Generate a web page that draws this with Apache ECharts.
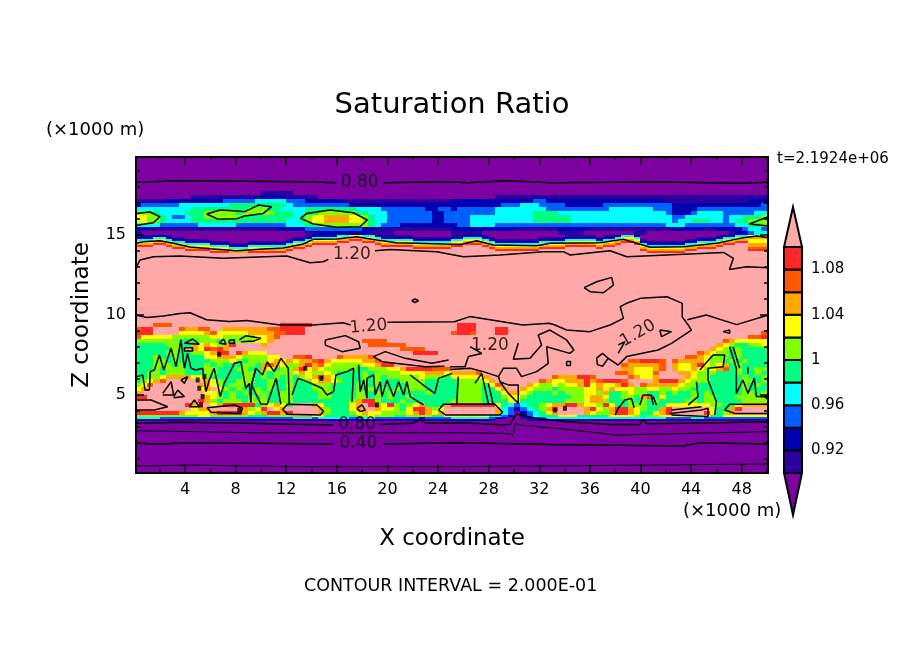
<!DOCTYPE html>
<html>
<head>
<meta charset="utf-8">
<title>Saturation Ratio</title>
<script src="https://cdn.jsdelivr.net/npm/echarts@6/dist/echarts.min.js"></script>
<style>
html, body { margin: 0; padding: 0; background: #fff; }
#chart { width: 904px; height: 654px; }
</style>
</head>
<body>
<div id="chart"></div>
<script>
// colour levels, lowest to highest: p i d b c g l y o r e k
var levelChars = 'pidbcglyorek';
var levelColors = ['#7d00a0', '#2c00a0', '#0000b0', '#0060ff', '#00ffff', '#00ff80',
    '#80ff00', '#ffff00', '#ffa800', '#ff5800', '#ff2828', '#ffa8a8'];
var levelEdges = [0.90, 0.92, 0.94, 0.96, 0.98, 1.00, 1.02, 1.04, 1.06, 1.08, 1.10];
var colorbarLabels = [0.92, 0.96, 1, 1.04, 1.08];

var xMajorTicks = [4, 8, 12, 16, 20, 24, 28, 32, 36, 40, 44, 48];
var xMinorTicks = [2, 6, 10, 14, 18, 22, 26, 30, 34, 38, 42, 46, 50];
var zMajorTicks = [5, 10, 15];
var zMinorTicks = [1, 2, 3, 4, 6, 7, 8, 9, 11, 12, 13, 14, 16, 17, 18, 19];

// column width 0.5 km (x = 0 .. 50), rows from the top down
var columnWidth = 0.5;
var zEdges = [20, 17.75, 17.5, 17.25, 17, 16.75, 16.5, 16.25, 16, 15.75, 15.5, 15.25, 15,
    14.875, 14.75, 14.625, 14.5, 14.375, 14.25, 14.125, 14, 13.875,
    9.5, 9.25, 9, 8.75, 8.5, 8.25, 8, 7.75, 7.5, 7.25, 7, 6.75, 6.5, 6.25, 6, 5.75, 5.5, 5.25,
    5, 4.75, 4.5, 4.25, 4, 3.75, 3.625, 3.5, 3.375, 0];
var fieldRows = [
    'pppppppppp pppppppppp pppppppppp pppppppppp pppppppppp pppppppppp pppppppppp pppppppppp pppppppppp pppppppppp',
    'pppppppppp pppppppppp iiiiippppp pppppppppp pppppppppp pppppppppp pppppppppp pppppppppp pppppppppp pppppppppp',
    'pppppppppi iiiiiiiiii ddddiiiiip pppppppppp pppppppppp pppppppiii iiiiiiiiii iiiiiiiiii iiiiiiiiii iiiiiiiiii',
    'iiiiiddddd ddddbbbbbc ccccbbbddd dddiiiiiii iiiiiiiiii dddddddddd dddbbddddd dddddddddd ddddiiiiii iiiiiiiddd',
    'dbbbbbbccc cccccggggg ggggcbbbbb bbbbdddddd dddddddddd ddddddddbb bcccbbbbdd ddddbbbbbb bbbbbddddd dddddddddb',
    'cccccccccg ggggggggll lggccccggg gggggccccb bbbbbbddbb dbbbbbbccc cccccbbbbb bbbbbccccc ccbbbddddb bbbbbbbbbb',
    'lllgccccgg glllllglll llgggccggl lllllggccc bbbbbbbddb bbbbbbbccc cccggggccc cccccccccc ccccbdddbc cccbbbbbcc',
    'yyllgcbbcg gllllllggg gggggcglyy ooooyylgcc bbbbbbbddb bbbccccccc cccggggggc cccccccccc cccccbbccc cccbccgggl',
    'yyllgccccg gggggggggg ggggccglyy ooooyylgcc bbbbbbbddb bbbccccccc cccggggggc cccccccccc cccccbccgg gccbcgglll',
    'ccccbbbbbb ccccccbbbb bbbbcccggl lllllllgcb bbdddddddd dbbccccbbb bbbbbbbbbb bbbbbbbbbb bbbbcccbbb bbbbbccggl',
    'ddiiiiiiii iiiiiiiiii iiiddddbbb bbbbbbddii iiiiiiiiii dddddddddd iiiiiiiddd ddiiiiiiii iiiiiddddd iiddddbccb',
    'ippppppppp pppppppppp pppppppiid dddddddiii ippppppppp iiiiippppp pppppppiii ippppppppi ippppppppp ppppiddbcc',
    'iiiddipppp pppppppppp pppppppidd ddccyyccdi iiiipppppp iidddipppp ppppppppii iiipiidccd pppppppppp ppiddccyyy',
    'dddccdiipp pppppppppp pppppiidcc ccyyooyycd ddddiiiiii ddcccdippp ppppiiiidd dddiddcyyc pppppppppi iidccyyooo',
    'cccyycddii iipppppppp ppppiddcyy yyooeeooyc ccccdddddd ccyyycdiii iiiiddddcc cccdccyooy ippppppiid ddcyyooyyy',
    'yyyooyccdd ddiiipppii iiiidccyoo ooeekkeeoy yyyycccccc yyoooycddd ddddccccyy yyycyyoeeo diiiiiiddc ccyooeeyyy',
    'oooeeoyycc ccdddiiidd ddddcyyoee eekkkkkkeo ooooyyyyyy ooeeeoyccc ccccyyyyoo oooyooekke cddddddccy yyoeekkooo',
    'eeekkeooyy yycccdddcc ccccyooekk kkkkkkkkke eeeeoooooo eekkkeoyyy yyyyooooee eeeoeekkkk yccccccyyo ooekkkkooo',
    'kkkkkkeeoo ooyyycccyy yyyyoeekkk kkkkkkkkkk kkkkeeeeee kkkkkkeooo ooooeeeekk kkkekkkkkk oyyyyyyooe eekkkkkrrr',
    'kkkkkkkkee eeoooyyyoo ooooekkkkk kkkkkkkkkk kkkkkkkkkk kkkkkkkeee eeeekkkkkk kkkkkkkkkk eooooooeek kkkkkkkeee',
    'kkkkkkkkkk kkeeeoooee eeeekkkkkk kkkkkkkkkk kkkkkkkkkk kkkkkkkkkk kkkkkkkkkk kkkkkkkkkk keeeeeekkk kkkkkkkkkk',
    'kkkkkkkkkk kkkkkkkkkk kkkkkkkkkk kkkkkkkkkk kkkkkkkkkk kkkkkkkkkk kkkkkkkkkk kkkkkkkkkk kkkkkkkkkk kkkkkkkkkk',
    'kkkrrrkkkk kkkkkkkkkk kkkeeeeekk kkkkkkkkkk kkkkkkkkkk keeekkkkkk kkkkkkkkkk kkkkkkkkkk kkkkkkkkkk kkkkkkkkkk',
    'reekkkkroo rrkkoooooo orreeeekkk kkkkkkkkkk kkkkkkkkkk keeekkkeek kkkkkkkkkk kkkkkkkkkk kkkkkkkkkk kkkkkkkkkk',
    'eeekkkkyyy yoryyyyyoo oorreeekkk kkkkkkkkkk kkkkkkkkkk reerkkkeek kkkkkkkkkk kkkkkkkkkk kkkkkkkkkk kkkkkkkkkr',
    'ryyyyyllll llyyllllly yorkkkkkkk kkkkkkkkkk kkkkkkkkkk kkkkkkkkkk kkkkkkkkkk kkkkkkkkkk kkkkkkkkkk kkkkkkkrre',
    'lllllllggg lllglgllly yokkkkkkkk kkkkkkrrrr kkkkkkkkkk kkkkkkkkkk kkkkkkkkkk kkkkkkkkkk kkkkkkkkkk kkkroyyyyy',
    'gggggllggo yoyloekkkk okkkkkkkkk kkkkkkkrrr rrrkkkkkkk kkkkkkkkkk kkkkkkkkkk kkkkkkkkkk kkkkkkkkkk kkoylgglly',
    'gggggglgko yereokkkkk kkkkkkkkkk kkkkkkkkkk kkrrrrkkkk kkkkkkkkkk kkkkkkkkkk kkkkkkkkkk kkkkkkkkkk koylglgggg',
    'gggggllggl lyoeekeoyy ykkkkkkkkk kkkkkkkkkk kkkkeeeekk kkkkkkkkkk kkkkkkkkkk kkkkkkkkkk kkkkkkkkkr oyllglgggg',
    'ggglgglggg gyyoooylll lyykkrrekk kkroooorkk kkkkkkkkkk kkkkkkkkkk kkkkkkkkkk kkkkkkkkkk kkkkkkkrro ylllglgggg',
    'gggllglggg gglllylgll lyoyoyoore oyyyyyoork kkkkkkkkkk kkkkkkkkkk kkkkkkkkkk kkkkkkkkrr eeerkroooo yllglglggg',
    'ggglllglgg glglgggllg oroylloeor ylllllyyoe ekkkkkkkkk kkkkkkkkkk kkkkkkkkkk kkkkkkkroo ooorkoyyoe ylyoglgggg',
    'ggglglllgg gllgggllgg oyglloeyoy lllllgglll yyoeeeerrr kkkkkkkkkk kkkkkkkkkk kkkkkkkooy yyorkoyyoy lyorglggll',
    'ggllglllgg gllggggllg lglllyoyll ylgggglgll llyyyyoooy oooorkkkkk kkkkkkkkkk kkkkkkrroy yyrkkkooyl llggglgglg',
    'ggllyooooy ylgggggllg lglglglyoe oygggglglg lllllylllg yyyyyokkkk kkkkkkrooo eerkkkkkro yyokkkkoyl lggggglggl',
    'glyorkkkkk koylgglllg glgglgglyo oylggglglg ggllllgggg gllllyokkk kkkkroyyoo oeoreeerkk kkoeeeoyll lgggggllgl',
    'lyrkkkkkkk ooylglllgg glgglgggll lggggllglg ggglllgggg gllllgyrkk kkoyllylyy oeyoyyoeok roooooyllg gggggglglg',
    'yokkkkkkkk yokylglggl glgglgggll lgggglglgl glglllgggg gllllggyok koylllglll lyyoyoyyyl lyyllyllgg gggggglggg',
    'okkkkkkkkk kyylglglgl lggllggggl lggggllglg lggggglggg gllllgggyo oylggglgll lyylogglyl lgglglgglg lgggggllgl',
    'eekkkkkkkk koylglgglg lggllggggl lggggllglg lgglgggggg gllllgggly ylgggggggl lyooyggllg orgygggglg llggglllll',
    'kkkkkkkkkk eolglllgll lggllggggg ggggloeelg gglggggggg lllllggggy ygggggggll lyoolggglg lglggggllg llggggllll',
    'kkkkkkkkeo kkyoeeeeeg lyoygkkkoy ggggyokeoy elglyogggo eeeeeeeygc bcgglyooee oyyleyggll lgggyyyyyy yllggyoooo',
    'kkkkkkkkky ookkkkkoly ekyokkkkko lgggyokkoy ylgyeeolyk kkkkkkkocb dbcgloekkk koeyloeeoy lggoekkkkk kyggoekkkk',
    'eeeeeeeoyy yyoeeeeoyl oeeoekkkko lggglyoyyl lllyoeoyok kkkkkkkocb pdbcgyokkk koylloeeoy ggyoekkkkk eyglokkkkk',
    'llllllllll yyllllllgg glllloooyy gggggllyll lggllllggy yyyyyygcbd pdbcgggyyy gggggyyyyl gllyyyyyyy yggyyyyyyy',
    'ccccbbbbbb bbbbbbbbbb bbbbbcccbc ccccbbccbb bbbbbdbbbb ccccccbdip pidbbccccc cccccccccc ccccbbbbcc bbbbbbbbbb',
    'iiiiiiiiii iiiiiiiiii iiiiiiiiii ddddiiiiii iiiiddiiii ddddddippp ppiiddddii iiiiiiiiii iiiiiiiiii iiiiiiiiii',
    'pppppppppp pppppppppp pppppppppp pppppppppp pppppppppp pppppppppp pppppppppp pppppppppp pppppppppp pppppppppp'
];

// contour lines, [x km, z km]
var c080Top = [[0.2, 18.29], [3.6, 18.39], [13.6, 18.33], [15.9, 18.27]];
var c080TopB = [[19.7, 18.27], [25, 18.33], [26.3, 18.27], [29.4, 18.39], [32.9, 18.27], [38.1, 18.29], [41.8, 18.31], [47.9, 18.23], [50.1, 18.29]];
var blobA = [[0.1, 16.35], [1.23, 16.44], [2.02, 16.14], [1.5, 15.77], [0.1, 15.6]];
var blobB = [[5.71, 16.31], [6.77, 16.56], [8.08, 16.5], [8.74, 16.46], [9.8, 16.87], [10.85, 16.77], [10.19, 16.35], [8.74, 16.19], [8.08, 16.02], [6.63, 15.98], [5.71, 16.31]];
var blobC = [[13.14, 16.04], [13.62, 16.35], [15.46, 16.56], [17.31, 16.39], [18.41, 15.94], [17.83, 15.52], [15.99, 15.48], [14.15, 15.69], [13.14, 16.04]];
var blobD = [[50.1, 16.14], [48.59, 15.69], [50.1, 15.56]];
var interfaceLine = [[0.1, 14.48], [0.71, 14.58], [2.02, 14.64], [3.08, 14.48], [4.4, 14.25], [5.98, 14.14], [8.08, 14.02], [10.19, 14.12], [11.77, 14.19], [13.35, 14.44], [14.15, 14.73], [15.99, 14.75], [17.57, 14.89], [19.15, 14.69], [20.73, 14.52], [25.74, 14.41],
    [27.06, 14.64], [28.38, 14.37], [31.8, 14.33], [32.86, 14.48], [36.81, 14.52], [38.65, 14.73], [40.76, 14.23], [43.4, 14.27], [46.03, 14.48], [47.87, 14.79], [49.19, 14.94], [50.1, 14.85]];
var c120Upper = [[0.18, 13.02], [0.44, 13.44], [1.5, 13.64], [3.6, 13.69], [7.03, 13.54], [12.04, 13.69], [13.88, 13.27], [14.93, 13.33], [15.33, 13.48]];
var c120UpperB = [[19.02, 14.02], [20.2, 14.1], [23.9, 13.96], [26, 13.64], [28.9, 13.75], [32.33, 13.96], [33.91, 13.96], [34.44, 13.75], [37.6, 14.02], [38.92, 13.64], [46.56, 13.91], [47.35, 13.54], [47.03, 12.85], [48.4, 13.02], [50.1, 12.96]];
var loopHigh = [[35.54, 11.71], [36.54, 12.08], [37.73, 12.35], [37.86, 11.87], [37.07, 11.39], [36.02, 11.46], [35.54, 11.71]];
var spotHigh = [[21.92, 10.89], [22.18, 11], [22.45, 10.89], [22.18, 10.77], [21.92, 10.89]];
var c120Main = [[0.1, 10], [1, 9.85], [2.3, 9.94], [3.6, 10.1], [4.4, 10.14], [5.7, 9.7], [7.5, 9.6], [8.9, 9.65], [11.5, 9.37], [14.1, 9.37], [16.5, 9.52], [17.1, 9.37]];
var c120MainB = [[20, 9.54], [25.3, 9.58], [26.5, 9.9], [30.7, 9.37], [32.8, 9.48], [33.24, 9.375], [34.16, 9.06], [36, 8.96], [37.6, 9.375], [38.65, 9.79], [38.4, 10.52], [38.9, 10.73], [40, 11.04], [42.1, 11.14], [43.3, 10.73], [43.3, 9.88], [43.77, 9.375], [44.03, 9.06], [42.45, 8.23], [41.4, 7.81], [38.9, 7.4], [38.24, 6.87], [37.45, 7.29]];
var c120MainC = [[43.7, 9.7], [45.2, 10], [47.6, 9.4], [50.1, 10]];
var loopCloudA = [[15.09, 8.44], [16.67, 8.71], [17.72, 8.33], [17.85, 7.92], [16.41, 7.71], [15.09, 8.12], [15.09, 8.44]];
var streakUpper = [[18.9, 7.4], [19.83, 7.71], [21.41, 7.29], [23.51, 6.98], [24.83, 7.19]];
var streakLower = [[18.9, 7.4], [19.57, 7.08], [23, 6.77], [24.5, 6.8]];
var cloudTopA = [[24.95, 6.77], [26.13, 6.77], [26.4, 7.4], [27.45, 7.6], [26.53, 8.02]];
var cloudTopB = [[24.95, 6.6], [26.53, 6.67], [27.58, 6.46], [28.77, 6.15], [29.16, 6.67], [30.2, 6.67], [30.6, 6.15], [31.8, 6.46], [32.71, 6.98], [32.58, 8.02], [34.42, 7.6], [34.74, 7.81], [34.16, 8.44], [32.84, 9.06], [31.92, 8.75], [32.18, 8.13], [31.27, 7.29], [29.95, 7.23], [30.34, 8.23]];
var cloudTopC = [[28.77, 6.15], [28.9, 5.83], [29.55, 5.63], [30.34, 5.63], [30.34, 4.48], [29.55, 5.1], [28.9, 5.83]];
var squareLoop = [[34.16, 7.1], [34.47, 7.1], [34.47, 6.85], [34.16, 6.85], [34.16, 7.1]];
var loopCloudB = [[36.53, 7.3], [37, 7.6], [37.45, 7.3], [37, 6.8], [36.6, 6.9], [36.53, 7.3]];
var loopCloudC = [[41.53, 9.06], [42.45, 8.96], [41.66, 8.65], [41.53, 9.06]];
var loopCloudD = [[46.53, 8.96], [47.05, 9.06], [47.05, 8.85], [46.53, 8.96]];
var nearLabel = [[38.24, 8.13], [38.77, 8.33], [38.24, 7.6]];
// 1.0 line around the lime plumes of the cloud layer
var plumeA = [[0.2, 6.15], [0.66, 6.25], [0.84, 5.31], [1.18, 5.31], [1.26, 6.46], [1.58, 6.56], [1.97, 7.5], [2.32, 6.56], [2.63, 7.29], [2.9, 7.92], [3.29, 6.77], [3.68, 8.44], [3.95, 6.67], [4.2, 7.6], [4.47, 6.67], [4.87, 6.56], [5.39, 6.67], [5.66, 5.21], [5.92, 5.94], [6.3, 6.67], [6.79, 4.9], [7.1, 5.73], [7.9, 6.98], [8.42, 7.08], [8.8, 5.42], [9.08, 5.73], [9.2, 4.54]];
var plumeB = [[9.2, 4.54], [9.26, 5.63], [9.6, 6.67], [10.13, 6.25], [10.5, 7.08], [11.05, 6.46], [11.58, 7.29], [12.16, 6.67], [12.24, 4.38]];
var plumeC = [[9.6, 6.67], [9.26, 5.63], [10, 4.42], [10.5, 4.42], [11.2, 6.04], [11.58, 4.42]];
var plumeD = [[12.46, 5], [12.93, 6.04], [13.78, 5.79], [14.83, 5.42], [15.22, 5], [15.75, 5.21], [15.93, 6.25], [16.8, 6.46], [17.33, 6.67], [17.2, 4.58]];
var plumeE = [[17.72, 6.88], [17.85, 5.21], [18.12, 5.94], [18.38, 4.79], [18.38, 6.04], [18.9, 6.25], [19.04, 5], [19.43, 5.83], [19.57, 4.9], [19.96, 5.94], [20.49, 4.9], [20.88, 5.83], [21.28, 5], [21.54, 5.83], [21.8, 4.9], [22.85, 4.38]];
var plumeF = [[21.8, 6.25], [23, 5.52], [23.75, 5.1], [24.04, 6.04], [25.1, 6.35]];
var plumeG = [[25.6, 6.15], [25.48, 4.48]];
var plumeH = [[26.92, 5.73], [27.45, 6.35], [27.98, 4.48]];
var plumeI = [[27.98, 5.73], [28.37, 4.38]];
var plumeJ = [[44.69, 6.56], [45.74, 7.5], [46.66, 7.5], [46.53, 6.77], [45.34, 6.67], [45.34, 5.94], [46, 4.58], [45.87, 3.75]];
var plumeK = [[44.42, 5.83], [44.55, 4.9], [43.77, 4.38]];
var plumeL = [[47.05, 8.02], [47.58, 6.67], [47.58, 5.1], [48.1, 5.94], [48.5, 5.1], [49, 6.04], [49.16, 4.9], [49.82, 4.9], [50.08, 4.7]];
var plumeM = [[47.32, 8.02], [47.84, 6.67]];
var plumeN = [[48.5, 6.77], [48.5, 6.35]];
var plumeO = [[39.95, 4.38], [40.21, 5], [40.87, 5], [41, 4.38]];
var plumeP = [[38, 3.75], [38.24, 4.17], [38.77, 4.69], [39.29, 4.79], [39.5, 4.2]];
var plumeQ = [[41, 4.9], [41.27, 4.38]];
// small shapes at the top of the cloud layer
var topCellA = [[3.95, 8.23], [4.6, 8.5], [5.13, 8.17], [3.95, 8.23]];
var topCellB = [[6.7, 8.23], [7.05, 8.5], [7.24, 8.17], [6.7, 8.23]];
var topCellC = [[7.5, 8.44], [7.9, 8.44], [7.9, 8.23], [7.5, 8.23], [7.5, 8.44]];
var topCellD = [[8.29, 8.44], [8.82, 8.71], [10, 8.54], [9.47, 8.38], [8.42, 8.33], [8.29, 8.44]];
var topCellE = [[3.95, 7.95], [4.6, 7.95], [4.6, 7.75], [3.95, 7.75], [3.95, 7.95]];
// boxes and loops near cloud base
var loopLeftA = [[2.24, 5.1], [2.9, 5.83], [3.1, 5], [2.24, 5]];
var loopLeftB = [[3.1, 4.9], [3.42, 5.31], [3.95, 4.9], [3.1, 4.83]];
var loopLeftC = [[4.34, 4.27], [4.74, 4.69], [5.13, 4.27], [4.34, 4.27]];
var loopLeftD = [[3.68, 5.94], [4.21, 6.15], [3.95, 5.73], [3.68, 5.94]];
var boxLeft = [[0.2, 4.69], [1.32, 4.69], [2.63, 4.27], [1.58, 4.06], [0.2, 4.06]];
var boxA = [[5.74, 4.21], [7.9, 4.38], [8.55, 4.17], [8.37, 3.85], [6.05, 3.92], [5.74, 4.21]];
var boxB = [[11.71, 4.1], [12.1, 4.42], [14.43, 4.38], [14.95, 3.98], [14.7, 3.75], [12.1, 3.79], [11.71, 4.1]];
var ringLoop = [[17.59, 4.17], [17.99, 4.38], [18.25, 4.06], [17.85, 3.96], [17.59, 4.17]];
var boxC = [[24.04, 4.06], [24.43, 4.42], [28.5, 4.42], [29.1, 3.92], [28.9, 3.75], [24.6, 3.75], [24.04, 4.06]];
var boxE = [[42.32, 3.85], [44.82, 4.06], [45.34, 4.17], [45.34, 3.65], [42.45, 3.75], [42.32, 3.85]];
var boxE2 = [[42.45, 4.06], [44.82, 4.27]];
var boxF = [[50.08, 4.42], [47.05, 4.42], [46.66, 4.06], [47.45, 3.85], [50.08, 3.85]];
var edgeLine = [[49.45, 4.9], [50.08, 4.9]];
var contourSets = [c080Top, c080TopB, blobA, blobB, blobC, blobD, interfaceLine, c120Upper, c120UpperB, loopHigh, spotHigh,
    c120Main, c120MainB, c120MainC, loopCloudA, streakUpper, streakLower, cloudTopA, cloudTopB, cloudTopC,
    squareLoop, loopCloudB, loopCloudC, loopCloudD, nearLabel,
    plumeA, plumeB, plumeC, plumeD, plumeE, plumeF, plumeG, plumeH, plumeI, plumeJ, plumeK, plumeL, plumeM, plumeN, plumeO, plumeP, plumeQ,
    topCellA, topCellB, topCellC, topCellD, topCellE, loopLeftA, loopLeftB, loopLeftC, loopLeftD,
    boxLeft, boxA, boxB, ringLoop, boxC, boxE, boxE2, boxF, edgeLine];

var c080Low = [[0.2, 3.23], [3.6, 3.29], [8.9, 3.23], [15.7, 3.12]];
var c080LowB = [[19.4, 3.16], [22, 3.23], [22.6, 3.48], [23, 3.25], [25.9, 3.27], [29.2, 3.12], [29.7, 3.18], [30.2, 3.81], [31.8, 3.54], [34.2, 3.33], [37.6, 3.16], [39.95, 3.16], [40.2, 3.48], [40.5, 3.2], [46, 3.27], [50.1, 3.33]];
var c060Low = [[0.2, 2.77], [4.9, 2.71], [9.7, 2.64], [15.4, 2.64], [25.7, 2.64], [29.4, 2.6], [29.95, 2.5], [30.1, 3.23], [30.5, 3.12], [34.2, 2.85], [38.1, 2.5], [50.1, 2.71]];
var c040Low = [[0.2, 1.98], [1.75, 1.94], [4.9, 2.02], [15.7, 1.94]];
var c040LowB = [[19.7, 1.94], [25.7, 2.02], [32.8, 1.91], [43.4, 1.81], [44.7, 2.02], [50.1, 1.94]];
var c020Low = [[0.2, 0.56], [4.4, 0.62], [12.8, 0.52], [25.7, 0.52], [40.8, 0.62], [50.1, 0.69]];
var contourBold = [c080Low, c080LowB, c040Low, c040LowB];
var contourThin = [c060Low, c020Low];

var labelX = [17.8, 17.2, 18.5, 28.1, 39.8, 17.6, 17.7];
var labelZ = [18.27, 13.75, 9.27, 8.12, 8.85, 3.18, 1.94];
var labelText = ['0.80', '1.20', '1.20', '1.20', '1.20', '0.80', '0.40'];
var labelAngle = [0, 0, 5, 0, 30, 0, 0];

// small closed contours too tight to show as lines
var spotX = [5, 5.13, 5.39, 5.26, 8.29, 5.53, 6.7, 13.51, 14.78, 19.17, 33.24, 34.03];
var spotZ = [5.94, 5.42, 4.9, 4.38, 4.06, 6.15, 7.54, 6.67, 6.04, 4.38, 4.06, 4.17];

var myChart = echarts.init(document.getElementById('chart'));

// fill cells
var fieldData = [];
fieldRows.forEach(function (row, r) {
    row.split(' ').forEach(function (group, g) {
        for (var i = 0; i < 10; i++) {
            var level = levelChars.indexOf(group.charAt(Math.min(i, group.length - 1)));
            var col = g * 10 + i;
            fieldData.push([col * columnWidth, (col + 1) * columnWidth, zEdges[r + 1], zEdges[r], level]);
        }
    });
});

function renderCell(params, api) {
    var a = api.coord([api.value(0), api.value(3)]);
    var b = api.coord([api.value(1), api.value(2)]);
    var rect = echarts.graphic.clipRectByRect(
        { x: a[0], y: a[1], width: b[0] - a[0], height: b[1] - a[1] },
        { x: params.coordSys.x, y: params.coordSys.y, width: params.coordSys.width, height: params.coordSys.height }
    );
    if (!rect) {
        return;
    }
    var x = Math.round(rect.x), y = Math.round(rect.y);
    return {
        type: 'rect',
        shape: { x: x, y: y, width: Math.round(rect.x + rect.width) - x, height: Math.round(rect.y + rect.height) - y },
        style: { fill: levelColors[api.value(4)] }
    };
}

// colour bar: boxes and the two end triangles
var barTop = 1.1354, barBottom = 0.8628;
var barData = [[0, 1, barBottom, levelEdges[0], 0]];
levelEdges.forEach(function (e, i) {
    barData.push([0, 1, e, i < levelEdges.length - 1 ? levelEdges[i + 1] : barTop, i + 1]);
});

function renderBar(params, api) {
    var low = api.coord([api.value(0), api.value(2)]);
    var high = api.coord([api.value(1), api.value(3)]);
    var level = api.value(4);
    var points;
    var midX = (low[0] + high[0]) / 2;
    if (level === 0) {
        points = [[low[0], high[1]], [high[0], high[1]], [midX, low[1]]];
    } else if (level === levelColors.length - 1) {
        points = [[low[0], low[1]], [high[0], low[1]], [midX, high[1]]];
    } else {
        points = [[low[0], low[1]], [high[0], low[1]], [high[0], high[1]], [low[0], high[1]]];
    }
    return {
        type: 'polygon',
        shape: { points: points },
        style: { fill: levelColors[level], stroke: '#000', lineWidth: 2 }
    };
}

var fontName = 'DejaVu Sans';
var xMin = 0.126, xMax = 50.08, zMin = 0.125, zMax = 19.875;

function frameX(position, ticks, length, showLabel, name) {
    return {
        type: 'value', gridIndex: 0, position: position, min: xMin, max: xMax, z: 10,
        name: name || '', nameLocation: 'middle', nameGap: 55,
        nameTextStyle: { fontFamily: fontName, fontSize: 23, color: '#000' },
        axisLine: { onZero: false, lineStyle: { color: '#000', width: 2 } },
        axisTick: { show: true, inside: true, length: length, customValues: ticks, lineStyle: { color: '#000', width: 1.5 } },
        axisLabel: { show: showLabel, customValues: ticks, margin: 9, hideOverlap: false, fontFamily: fontName, fontSize: 16, color: '#000' },
        splitLine: { show: false }
    };
}
function frameZ(position, ticks, length, showLabel, name) {
    return {
        type: 'value', gridIndex: 0, position: position, min: zMin, max: zMax, z: 10,
        name: name || '', nameLocation: 'middle', nameGap: 42,
        nameTextStyle: { fontFamily: fontName, fontSize: 23, color: '#000' },
        axisLine: { onZero: false, lineStyle: { color: '#000', width: 2 } },
        axisTick: { show: true, inside: true, length: length, customValues: ticks, lineStyle: { color: '#000', width: 1.5 } },
        axisLabel: { show: showLabel, customValues: ticks, margin: 10, hideOverlap: false, fontFamily: fontName, fontSize: 16, color: '#000' },
        splitLine: { show: false }
    };
}

var series = [{
    type: 'custom', xAxisIndex: 0, yAxisIndex: 0, silent: true,
    renderItem: renderCell, data: fieldData, encode: { x: [0, 1], y: [2, 3] }, z: 1
}];
contourSets.concat(contourBold).forEach(function (pts) {
    series.push({
        type: 'line', xAxisIndex: 0, yAxisIndex: 0, data: pts, showSymbol: false, silent: true,
        clip: true, z: 3, lineStyle: { color: '#000', width: 1.5 }
    });
});
contourThin.forEach(function (pts) {
    series.push({
        type: 'line', xAxisIndex: 0, yAxisIndex: 0, data: pts, showSymbol: false, silent: true,
        clip: true, z: 3, lineStyle: { color: '#000', width: 1 }
    });
});
series.push({
    type: 'scatter', xAxisIndex: 0, yAxisIndex: 0, silent: true, z: 3, symbol: 'rect', symbolSize: [4, 5],
    itemStyle: { color: '#000' },
    data: spotX.map(function (x, i) { return [x, spotZ[i]]; })
});
series.push({
    type: 'scatter', xAxisIndex: 0, yAxisIndex: 0, silent: true, z: 4, symbolSize: 0,
    data: labelX.map(function (x, i) {
        return {
            value: [x, labelZ[i]],
            label: {
                show: true, position: 'inside', formatter: labelText[i], rotate: labelAngle[i],
                fontFamily: fontName, fontSize: 17, color: '#000'
            }
        };
    })
});
series.push({
    type: 'custom', xAxisIndex: 4, yAxisIndex: 4, silent: true,
    renderItem: renderBar, data: barData, encode: { x: [0, 1], y: [2, 3] }, z: 1
});

var option = {
    animation: false,
    backgroundColor: '#fff',
    textStyle: { fontFamily: fontName },
    title: {
        text: 'Saturation Ratio', left: 447, top: 86, textAlign: 'center',
        textStyle: { fontFamily: fontName, fontSize: 29, fontWeight: 'normal', color: '#000' }
    },
    grid: [
        { left: 136, top: 157, width: 632, height: 316, show: false },
        { left: 784, top: 207, width: 18, height: 308, show: false }
    ],
    xAxis: [
        frameX('bottom', xMajorTicks, 8, true, 'X coordinate'),
        frameX('top', xMajorTicks, 8, false),
        frameX('bottom', xMinorTicks, 4, false),
        frameX('top', xMinorTicks, 4, false),
        { type: 'value', gridIndex: 1, min: 0, max: 1, show: false }
    ],
    yAxis: [
        frameZ('left', zMajorTicks, 8, true, 'Z coordinate'),
        frameZ('right', zMajorTicks, 8, false),
        frameZ('left', zMinorTicks, 4, false),
        frameZ('right', zMinorTicks, 4, false),
        {
            type: 'value', gridIndex: 1, position: 'right', min: barBottom, max: barTop,
            axisLine: { show: false }, axisTick: { show: false }, splitLine: { show: false },
            axisLabel: {
                customValues: colorbarLabels, margin: 9, fontFamily: fontName, fontSize: 15, color: '#000',
                formatter: function (v) { return v === 1 ? '1' : String(v); }
            }
        }
    ],
    graphic: [
        { type: 'text', left: 46, top: 121, style: { text: '(×1000 m)', font: '18px "DejaVu Sans"', fill: '#000' } },
        { type: 'text', left: 683, top: 502, style: { text: '(×1000 m)', font: '18px "DejaVu Sans"', fill: '#000' } },
        { type: 'text', left: 777, top: 152, style: { text: 't=2.1924e+06', font: '15px "DejaVu Sans"', fill: '#000' } },
        { type: 'text', left: 304, top: 577, style: { text: 'CONTOUR INTERVAL = 2.000E-01', font: '17.5px "DejaVu Sans"', fill: '#000' } }
    ],
    series: series
};

myChart.setOption(option);
</script>
</body>
</html>
